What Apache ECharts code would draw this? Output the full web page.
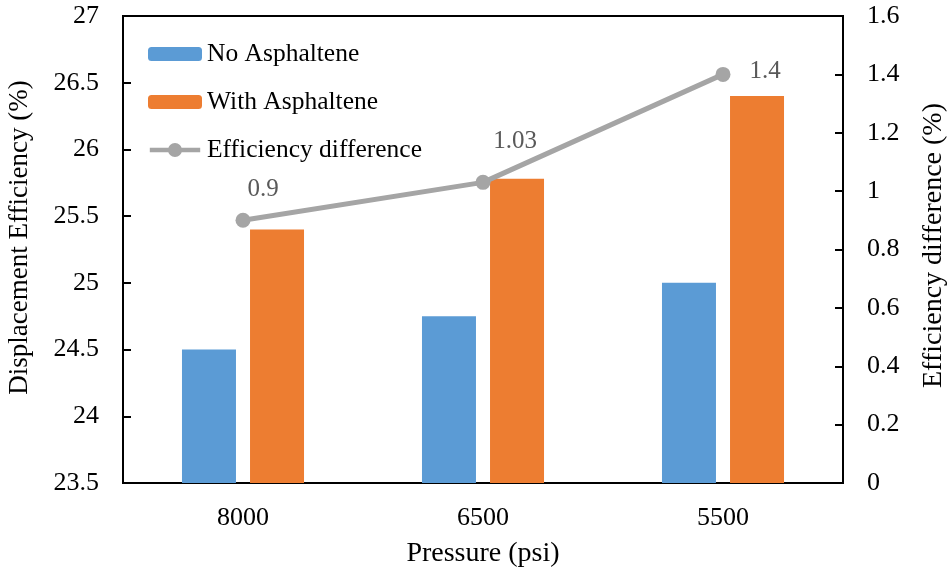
<!DOCTYPE html>
<html>
<head>
<meta charset="utf-8">
<script src="https://cdn.jsdelivr.net/npm/echarts@6/dist/echarts.min.js"></script>
<style>html,body{margin:0;padding:0;background:#fff}#c{width:950px;height:576px}</style>
</head>
<body>
<div id="c"></div>
<script>
var categories = ['8000', '6500', '5500'];
var noAsphaltene = [24.5, 24.75, 25.0];
var withAsphaltene = [25.4, 25.78, 26.4];
var effDiff = [0.9, 1.03, 1.4];
var diffLabels = ['0.9', '1.03', '1.4'];
var labelOffsets = [[20, -6], [32, -16], [42, 22]];

var font = 'Liberation Serif';
var lineIcon = 'path://M0,5 L20,5 L20,10 L0,10 Z M34,5 L54,5 L54,10 L34,10 Z M19.5,7.5 A7.5,7.5 0 1,1 34.5,7.5 A7.5,7.5 0 1,1 19.5,7.5 Z';
var chart = echarts.init(document.getElementById('c'));
var lineData = effDiff.map(function (v, i) {
  return { value: v, label: { offset: labelOffsets[i], formatter: diffLabels[i] } };
});
chart.setOption({
  animation: false,
  textStyle: { fontFamily: font },
  grid: { left: 123, right: 107, top: 16, bottom: 93, outerBoundsMode: 'none', containLabel: false, show: true, borderColor: '#000', borderWidth: 2, backgroundColor: 'transparent' },
  legend: {
    orient: 'vertical', left: 143, top: 36,
    itemWidth: 54, itemHeight: 14, itemGap: 22,
    textStyle: { fontFamily: font, fontSize: 25.5, color: '#000', lineHeight: 26 },
    data: [
      { name: 'No Asphaltene' },
      { name: 'With Asphaltene' },
      { name: 'Efficiency difference', icon: lineIcon, itemStyle: { color: '#A5A5A5' } }
    ]
  },
  xAxis: {
    type: 'category', data: categories,
    name: 'Pressure (psi)', nameLocation: 'middle', nameGap: 57,
    nameTextStyle: { fontFamily: font, fontSize: 28, color: '#000' },
    axisLine: { lineStyle: { color: '#000', width: 2 } },
    axisTick: { show: false },
    axisLabel: { fontFamily: font, fontSize: 26, color: '#000', margin: 22 }
  },
  yAxis: [{
    type: 'value', min: 23.5, max: 27, interval: 0.5,
    name: 'Displacement Efficiency (%)', nameLocation: 'middle', nameGap: 90, nameRotate: 90,
    nameTextStyle: { fontFamily: font, fontSize: 27, color: '#000', padding: [0, 0, 0, 24] },
    axisLine: { show: true, lineStyle: { color: '#000', width: 2 } },
    axisTick: { show: true, inside: true, length: 8, lineStyle: { color: '#000', width: 2 } },
    axisLabel: { fontFamily: font, fontSize: 26, color: '#000', margin: 24 },
    splitLine: { show: false }
  }, {
    type: 'value', min: 0, max: 1.6, interval: 0.2, position: 'right',
    name: 'Efficiency difference (%)', nameLocation: 'middle', nameGap: 77, nameRotate: 90,
    nameTextStyle: { fontFamily: font, fontSize: 28, color: '#000', padding: [0, 0, 0, 8] },
    axisLine: { show: true, lineStyle: { color: '#000', width: 2 } },
    axisTick: { show: true, inside: true, length: 8, lineStyle: { color: '#000', width: 2 } },
    axisLabel: { fontFamily: font, fontSize: 26, color: '#000', margin: 24, formatter: function (v) { return String(+v.toFixed(1)); } },
    splitLine: { show: false }
  }],
  series: [{
    name: 'No Asphaltene', type: 'bar', data: noAsphaltene, yAxisIndex: 0,
    barWidth: 54, barGap: '26%',
    itemStyle: { color: '#5B9BD5' }
  }, {
    name: 'With Asphaltene', type: 'bar', data: withAsphaltene, yAxisIndex: 0,
    barWidth: 54, barGap: '26%',
    itemStyle: { color: '#ED7D31' }
  }, {
    name: 'Efficiency difference', type: 'line', data: lineData, yAxisIndex: 1,
    symbol: 'circle', symbolSize: 15,
    lineStyle: { color: '#A5A5A5', width: 5 },
    itemStyle: { color: '#A5A5A5' },
    label: { show: true, position: 'top', fontFamily: font, fontSize: 25, color: '#595959' },
    z: 5
  }]
});
</script>
</body>
</html>
